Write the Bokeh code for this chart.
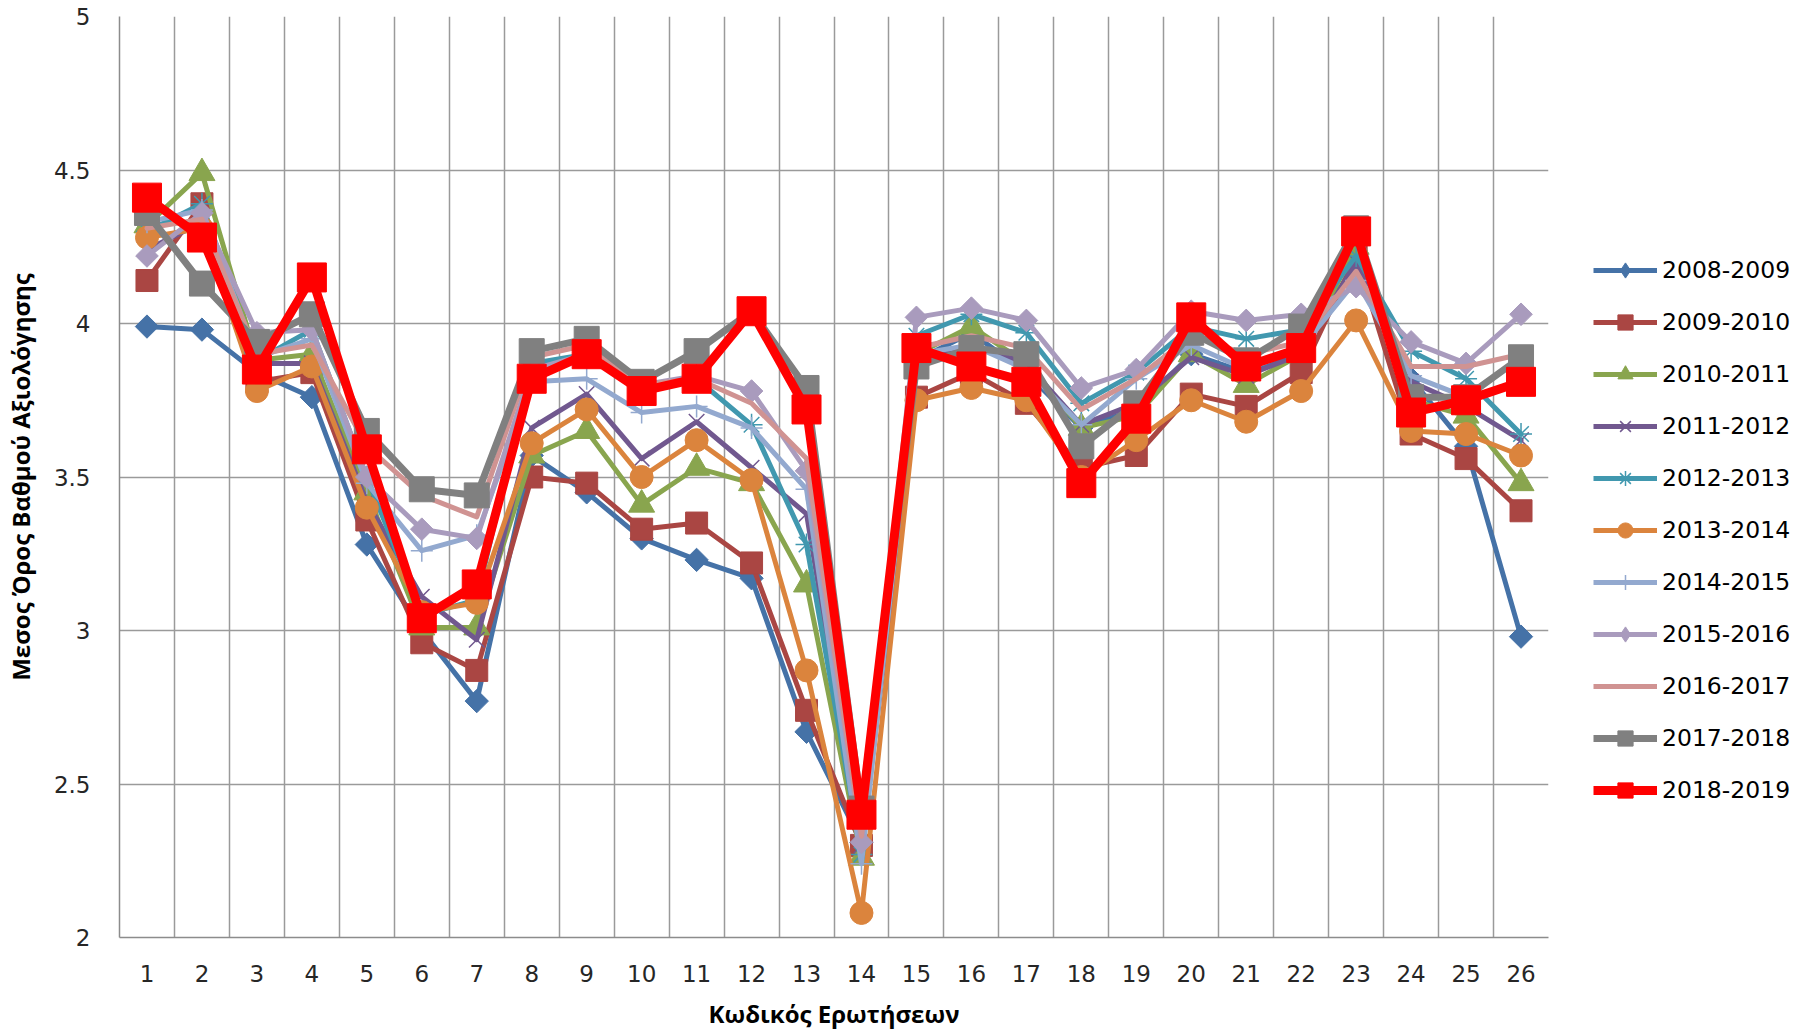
from bokeh.plotting import figure
from bokeh.layouts import row
from bokeh.models import Range1d, FixedTicker, Legend, LegendItem
from bokeh.embed import file_html
from bokeh.resources import INLINE

# ---------------- data ----------------
questions = list(range(1, 27))
y_ticks = [2, 2.5, 3, 3.5, 4, 4.5, 5]
x_title = "Κωδικός Ερωτήσεων"
y_title = "Μεσος Όρος Βαθμού Αξιολόγησης"

seasons = ["2008-2009", "2009-2010", "2010-2011", "2011-2012", "2012-2013", "2013-2014",
           "2014-2015", "2015-2016", "2016-2017", "2017-2018", "2018-2019"]

s2008_2009 = [3.99, 3.98, 3.84, 3.76, 3.28, 3.00, 2.77, 3.57, 3.45, 3.30, 3.23, 3.17, 2.67,
              2.31, 3.88, 3.97, 3.84, 3.66, 3.72, 3.90, 3.84, 3.91, 4.20, 3.82, 3.60, 2.98]
s2009_2010 = [4.14, 4.39, 3.81, 3.84, 3.36, 2.96, 2.87, 3.50, 3.48, 3.33, 3.35, 3.22, 2.74,
              2.30, 3.76, 3.84, 3.74, 3.53, 3.57, 3.77, 3.73, 3.84, 4.22, 3.64, 3.56, 3.39]
s2010_2011 = [4.32, 4.49, 3.88, 3.90, 3.45, 3.01, 3.01, 3.57, 3.65, 3.41, 3.53, 3.48, 3.15,
              2.26, 3.90, 3.99, 3.87, 3.66, 3.70, 3.90, 3.80, 3.90, 4.25, 3.75, 3.70, 3.48]
s2011_2012 = [4.24, 4.33, 3.87, 3.87, 3.42, 3.11, 2.97, 3.66, 3.77, 3.56, 3.68, 3.53, 3.38,
              2.30, 3.88, 3.93, 3.87, 3.67, 3.74, 3.89, 3.83, 3.90, 4.20, 3.81, 3.73, 3.62]
s2012_2013 = [4.30, 4.39, 3.88, 3.98, 3.50, 3.05, 3.10, 3.87, 3.90, 3.79, 3.82, 3.67, 3.28,
              2.27, 3.96, 4.03, 3.97, 3.74, 3.84, 3.99, 3.95, 3.98, 4.22, 3.91, 3.82, 3.64]
s2013_2014 = [4.28, 4.31, 3.78, 3.86, 3.40, 3.06, 3.09, 3.61, 3.72, 3.50, 3.62, 3.49, 2.87,
              2.08, 3.75, 3.79, 3.75, 3.50, 3.62, 3.75, 3.68, 3.78, 4.01, 3.65, 3.64, 3.57]
s2014_2015 = [4.33, 4.37, 3.89, 3.95, 3.48, 3.26, 3.31, 3.81, 3.82, 3.71, 3.73, 3.66, 3.46,
              2.24, 3.90, 3.93, 3.85, 3.67, 3.82, 3.93, 3.85, 3.92, 4.14, 3.83, 3.76, 3.80]
s2015_2016 = [4.22, 4.36, 3.97, 3.98, 3.50, 3.33, 3.30, 3.85, 3.90, 3.80, 3.83, 3.78, 3.52,
              2.31, 4.02, 4.05, 4.01, 3.79, 3.85, 4.04, 4.01, 4.03, 4.12, 3.94, 3.87, 4.03]
s2016_2017 = [4.31, 4.34, 3.90, 3.93, 3.60, 3.44, 3.37, 3.89, 3.93, 3.80, 3.82, 3.74, 3.56,
              2.33, 3.92, 3.96, 3.92, 3.72, 3.82, 3.96, 3.90, 3.94, 4.17, 3.86, 3.86, 3.90]
s2017_2018 = [4.36, 4.13, 3.94, 4.03, 3.65, 3.46, 3.44, 3.91, 3.95, 3.81, 3.91, 4.04, 3.79,
              2.42, 3.86, 3.92, 3.90, 3.60, 3.74, 3.97, 3.88, 3.99, 4.31, 3.76, 3.76, 3.89]
s2018_2019 = [4.41, 4.28, 3.85, 4.15, 3.59, 3.04, 3.15, 3.82, 3.90, 3.78, 3.82, 4.04, 3.72,
              2.40, 3.92, 3.86, 3.81, 3.48, 3.69, 4.02, 3.86, 3.92, 4.30, 3.71, 3.75, 3.81]

series = [s2008_2009, s2009_2010, s2010_2011, s2011_2012, s2012_2013, s2013_2014,
          s2014_2015, s2015_2016, s2016_2017, s2017_2018, s2018_2019]

# ---------------- styles ----------------
DIAM = 0.785398
styles = [
    dict(color="#4572A7", lw=5, marker="square", size=16.5, angle=DIAM, thin=False),
    dict(color="#AA4643", lw=5, marker="square", size=22, angle=0, thin=False),
    dict(color="#89A54E", lw=5, marker="triangle", size=26, angle=0, thin=False),
    dict(color="#71588F", lw=5, marker="x", size=22, angle=0, thin=True),
    dict(color="#4198AF", lw=5, marker="asterisk", size=22, angle=0, thin=True),
    dict(color="#DB843D", lw=5, marker="circle", size=23, angle=0, thin=False),
    dict(color="#93A9CF", lw=5, marker="cross", size=22, angle=0, thin=True),
    dict(color="#A99BBD", lw=5, marker="square", size=16, angle=DIAM, thin=False),
    dict(color="#D09392", lw=5, marker=None, size=0, angle=0, thin=False),
    dict(color="#808080", lw=7, marker="square", size=25, angle=0, thin=False),
    dict(color="#FF0000", lw=9, marker="square", size=29, angle=0, thin=False),
]

TICK_FONT = "DejaVu Sans"
TITLE_FONT = "Open Sans"

p = figure(width=1560, height=1033, output_backend="svg", toolbar_location=None,
           x_range=Range1d(0.5, 26.5), y_range=Range1d(2, 5),
           min_border_left=119, min_border_right=12, min_border_top=16, min_border_bottom=96)
p.outline_line_color = None
p.background_fill_color = "white"

for vals, st in zip(series, styles):
    p.line(questions, vals, line_color=st["color"], line_width=st["lw"],
           line_join="round", line_cap="round")
    if st["marker"] is None:
        continue
    if st["thin"]:
        p.scatter(questions, vals, marker=st["marker"], size=st["size"],
                  line_color=st["color"], line_width=1.5)
    else:
        p.scatter(questions, vals, marker=st["marker"], size=st["size"], angle=st["angle"],
                  fill_color=st["color"], line_color=st["color"], line_width=1)

# axes
p.xaxis.ticker = FixedTicker(ticks=questions)
p.yaxis.ticker = FixedTicker(ticks=y_ticks)
p.yaxis.major_label_overrides = {t: f"{t:g}" for t in y_ticks}

for ax in (p.xaxis[0], p.yaxis[0]):
    ax.axis_line_color = "#8c8c8c"
    ax.axis_line_width = 1.5
    ax.major_tick_line_color = None
    ax.minor_tick_line_color = None
    ax.major_tick_in = 0
    ax.major_tick_out = 0
    ax.major_label_text_font = TICK_FONT
    ax.major_label_text_font_size = "23px"
    ax.major_label_text_color = "#262626"
    ax.axis_label_text_font = TITLE_FONT
    ax.axis_label_text_font_style = "bold"
    ax.axis_label_text_font_size = "24px"
    ax.axis_label_text_color = "black"

p.xaxis.axis_label = x_title
p.yaxis.axis_label = y_title
p.xaxis.major_label_standoff = 27
p.xaxis.axis_label_standoff = 12
p.yaxis.major_label_standoff = 29
p.yaxis.axis_label_standoff = 14

# grids
p.xgrid.ticker = FixedTicker(ticks=[q - 0.5 for q in questions] + [questions[-1] + 0.5])
p.ygrid.ticker = FixedTicker(ticks=y_ticks)
for g in (p.xgrid[0], p.ygrid[0]):
    g.grid_line_color = "#9a9a9a"
    g.grid_line_width = 1.5

# ---------------- legend panel (separate figure to the right) ----------------
# The same series are drawn here with a view range that keeps them off-canvas,
# so only their legend glyphs show.
q = figure(width=248, height=1033, output_backend="svg", toolbar_location=None,
           x_range=Range1d(-3, -2), y_range=Range1d(2, 5),
           x_axis_type=None, y_axis_type=None, min_border=0)
q.outline_line_color = None
q.grid.visible = False

items = []
for name, vals, st in zip(seasons, series, styles):
    rs = [q.line(questions, vals, line_color=st["color"], line_width=st["lw"],
                 line_cap="butt")]
    if st["marker"] is not None:
        if st["thin"]:
            rs.append(q.scatter(questions, vals, marker=st["marker"], line_color=st["color"],
                                line_width=1.5))
        else:
            mk = "diamond" if st["angle"] else st["marker"]
            rs.append(q.scatter(questions, vals, marker=mk, fill_color=st["color"],
                                line_color=st["color"]))
    items.append(LegendItem(label=name, renderers=rs))

legend = Legend(items=items, location=(33, 128), margin=0, padding=0, spacing=14,
                glyph_width=64, glyph_height=38, label_height=38, label_standoff=5,
                label_text_font=TICK_FONT, label_text_font_size="23.5px",
                label_text_color="black",
                border_line_color=None, background_fill_alpha=0)
q.add_layout(legend, "center")

layout = row(p, q)
open("out.html", "w").write(file_html(layout, INLINE))
